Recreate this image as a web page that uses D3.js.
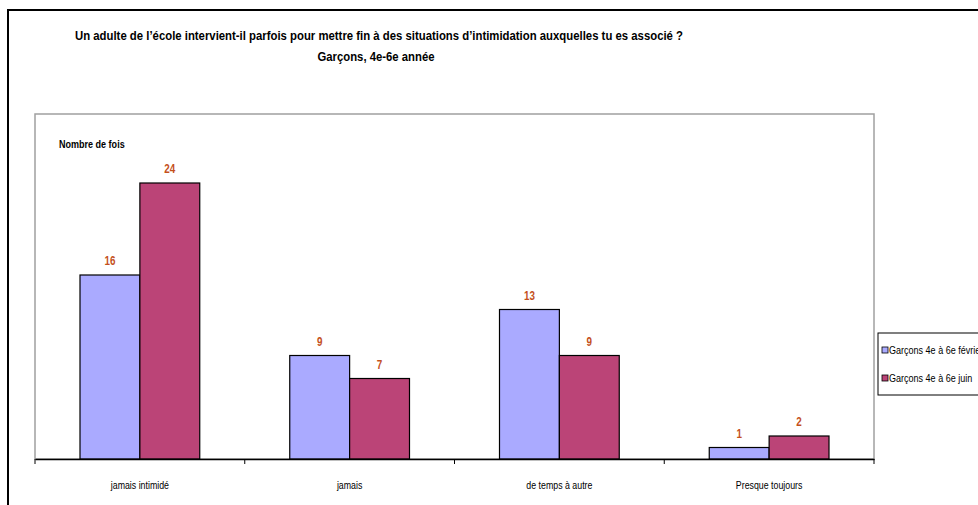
<!DOCTYPE html>
<html>
<head>
<meta charset="utf-8">
<script src="https://cdn.jsdelivr.net/npm/d3@7"></script>
<style>
  body { margin: 0; background: #fff; }
  svg { display: block; font-family: "Liberation Sans", Arial, sans-serif; }
</style>
</head>
<body>
<svg id="chart" width="978" height="505"></svg>
<script>
const categories = ["jamais intimidé", "jamais", "de temps à autre", "Presque toujours"];
const seriesNames = ["Garçons 4e à 6e février", "Garçons 4e à 6e juin"];
const fevrier = [16, 9, 13, 1];
const juin = [24, 7, 9, 2];
const colors = ["#aaaaff", "#bb4477"];

const svg = d3.select('#chart');
const margin = { top: 114, left: 35, right: 104, bottom: 46 };
const width = 978, height = 505;
const innerWidth = width - margin.left - margin.right;
const innerHeight = 459 - margin.top;

// squeeze text horizontally to mimic the narrow font of the original
function narrow(sel, ratio) {
    sel.each(function() {
        const w = this.getComputedTextLength();
        d3.select(this).attr('textLength', w * ratio).attr('lengthAdjust', 'spacingAndGlyphs');
    });
}

// outer frame
svg.append('path')
    .attr('d', 'M8,505 L8,10 L978,10')
    .attr('fill', 'none')
    .attr('stroke', '#000')
    .attr('stroke-width', 2);

// titles
svg.append('text')
    .attr('x', 379).attr('y', 40)
    .attr('text-anchor', 'middle')
    .style('font-size', '13.5px').style('font-weight', 'bold')
    .attr('textLength', 608).attr('lengthAdjust', 'spacingAndGlyphs')
    .text("Un adulte de l’école intervient-il parfois pour mettre fin à des situations d’intimidation auxquelles tu es associé ?");
svg.append('text')
    .attr('x', 376).attr('y', 61)
    .attr('text-anchor', 'middle')
    .style('font-size', '13.5px').style('font-weight', 'bold')
    .attr('textLength', 117).attr('lengthAdjust', 'spacingAndGlyphs')
    .text("Garçons, 4e-6e année");

// plot area border
svg.append('rect')
    .attr('x', margin.left).attr('y', margin.top)
    .attr('width', innerWidth).attr('height', innerHeight)
    .attr('fill', '#fff')
    .attr('stroke', '#a0a0a0')
    .attr('stroke-width', 1.5);

const g = svg.append('g')
    .attr('transform', 'translate(' + margin.left + ',' + margin.top + ')');

const x0 = d3.scaleBand()
    .domain(categories)
    .range([0, innerWidth])
    .paddingInner(0)
    .paddingOuter(0);
const x1 = d3.scaleBand()
    .domain(seriesNames)
    .range([45, x0.bandwidth() - 45]);
const y = d3.scaleLinear()
    .domain([0, 30])
    .range([innerHeight, innerHeight - 345]);

const rows = categories.map((c, i) => ({
    cat: c,
    vals: [
        { s: seriesNames[0], v: fevrier[i], c: colors[0] },
        { s: seriesNames[1], v: juin[i], c: colors[1] }
    ]
}));

const groups = g.selectAll('.grp')
    .data(rows)
    .enter()
    .append('g')
    .attr('transform', d => 'translate(' + x0(d.cat) + ',0)');

groups.selectAll('rect')
    .data(d => d.vals)
    .enter()
    .append('rect')
    .attr('x', d => x1(d.s))
    .attr('y', d => y(d.v))
    .attr('width', x1.bandwidth())
    .attr('height', d => innerHeight - y(d.v))
    .attr('fill', d => d.c)
    .attr('stroke', '#000')
    .attr('stroke-width', 1.2);

groups.selectAll('.lbl')
    .data(d => d.vals)
    .enter()
    .append('text')
    .attr('x', d => x1(d.s) + x1.bandwidth() / 2)
    .attr('y', d => y(d.v) - 10)
    .attr('text-anchor', 'middle')
    .style('font-size', '12px').style('font-weight', 'bold')
    .attr('fill', '#c4501c')
    .text(d => d.v)
    .call(narrow, 0.82);

// x axis
const xAxis = d3.axisBottom(x0).tickSize(0).tickPadding(22);
const gx = g.append('g')
    .attr('transform', 'translate(0,' + innerHeight + ')')
    .call(xAxis);
gx.select('.domain').attr('stroke', '#000').attr('stroke-width', 1.5);
gx.selectAll('text')
    .style('font-size', '11px')
    .attr('fill', '#000')
    .call(narrow, 0.8);
gx.selectAll('.sep')
    .data(d3.range(categories.length + 1))
    .enter()
    .append('line')
    .attr('x1', i => i * x0.step()).attr('x2', i => i * x0.step())
    .attr('y1', 0).attr('y2', 5)
    .attr('stroke', '#000');

// y axis label
svg.append('text')
    .attr('x', 59).attr('y', 148)
    .style('font-size', '11px').style('font-weight', 'bold')
    .text('Nombre de fois')
    .call(narrow, 0.82);

// legend
const lg = svg.append('g').attr('transform', 'translate(878,333)');
lg.append('rect')
    .attr('width', 110).attr('height', 62)
    .attr('fill', '#fff').attr('stroke', '#000').attr('stroke-width', 1);
seriesNames.forEach((s, i) => {
    lg.append('rect')
        .attr('x', 4).attr('y', 14 + i * 28)
        .attr('width', 6).attr('height', 6)
        .attr('fill', colors[i]).attr('stroke', '#000').attr('stroke-width', 0.8);
    lg.append('text')
        .attr('x', 11).attr('y', 21 + i * 28)
        .style('font-size', '11px')
        .text(s)
        .call(narrow, 0.82);
});
</script>
</body>
</html>
